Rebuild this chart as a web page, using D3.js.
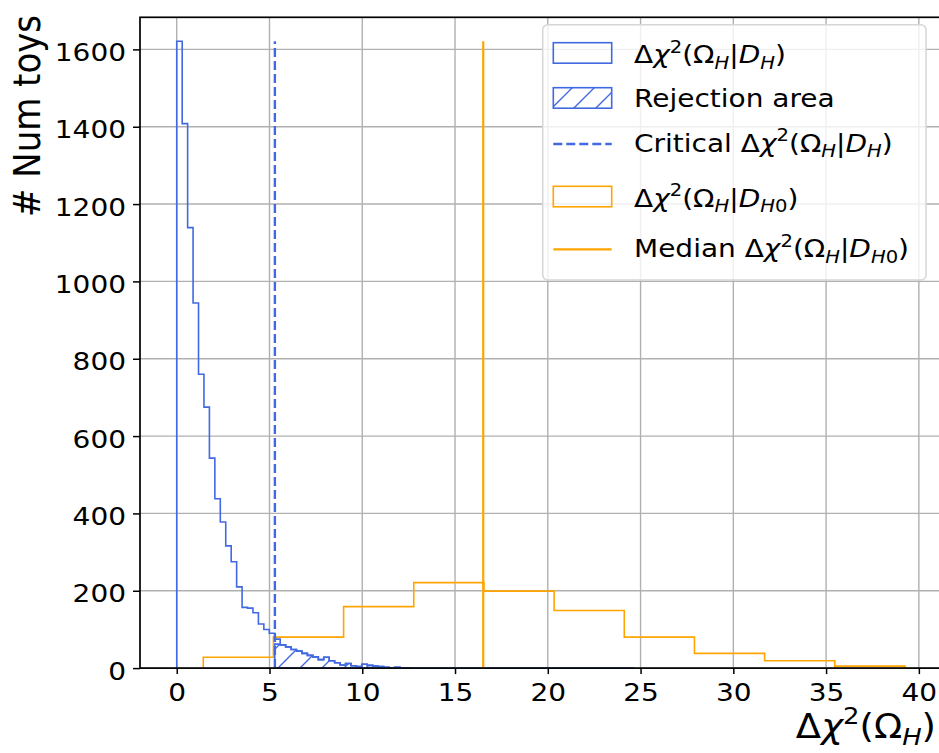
<!DOCTYPE html>
<html>
<head>
<meta charset="utf-8">
<script src="https://cdn.jsdelivr.net/npm/d3@7"></script>
<style>
body { margin: 0; background: #fff; }
text { font-family: "DejaVu Sans", sans-serif; fill: #000; }
</style>
</head>
<body>
<div id="chart-area"></div>
<script>

// SVG Size
var width = 939,
	height = 753;

// axes box (the right edge falls just outside the picture)
var box = {left: 140, right: 941.3, top: 17.3, bottom: 668.1};

// text in the reference is a bit wider than tall
var stretch = 1.12;

// Delta chi2 under H : histogram bins
var blueStart = 0,
	blueWidth = 0.2935;
var blueCounts = [1621, 1408, 1139, 944, 760, 675, 543, 438, 378, 316,
	275, 210, 157, 155, 143, 114, 100, 90, 75, 60,
	55, 48, 44, 38, 33, 29, 22, 28, 19, 14,
	8, 12, 6, 4, 10, 7, 5, 4, 2, 1,
	2, 1, 1, 0, 0, 0, 0, 0, 0, 0,
	0, 0, 0, 0, 0, 0, 0, 0, 0, 0,
	0, 0, 0, 0, 0, 0, 0, 0, 0, 0,
	0, 0, 0, 0, 0, 0, 0, 0, 0, 0,
	0, 0, 0, 0];

// rejection area : the same toys above the critical value
var rejFirstBin = 18;
var rejCounts = [62, 60, 55, 48, 44, 38, 33, 29, 22, 28,
	19, 14, 8, 12, 6, 4, 10, 7, 5, 4,
	2, 1, 2, 1, 1];

var critical = 5.29;

// Delta chi2 under H0
var orangeStart = 1.43,
	orangeWidth = 3.782;
var orangeCounts = [28, 80, 159, 221, 199, 149, 80, 38, 19, 5];

var median = 16.52;
var vlineTop = 1621;

var xTicks = [0, 5, 10, 15, 20, 25, 30, 35, 40];
var yTicks = [0, 200, 400, 600, 800, 1000, 1200, 1400, 1600];
var xDomain = [-1.98, 41.21],
	yDomain = [0, 1683];

var blue = "#4169e1",
	orange = "#ffa500";

var svg = d3.select("#chart-area").append("svg")
	.attr("width", width)
	.attr("height", height);

var x = d3.scaleLinear().domain(xDomain).range([box.left, box.right]);
var y = d3.scaleLinear().domain(yDomain).range([box.bottom, box.top]);

// hatch for the rejection area
var defs = svg.append("defs");
defs.append("pattern")
	.attr("id", "hatch")
	.attr("patternUnits", "userSpaceOnUse")
	.attr("width", 22)
	.attr("height", 22)
	.append("path")
	.attr("d", "M0,22 L22,0 M-11,11 L11,-11 M11,33 L33,11")
	.attr("stroke", blue)
	.attr("stroke-width", 1.4);

defs.append("clipPath")
	.attr("id", "plot-clip")
	.append("rect")
	.attr("x", box.left)
	.attr("y", box.top)
	.attr("width", box.right - box.left)
	.attr("height", box.bottom - box.top);

// grid
var grid = svg.append("g").attr("stroke", "#b0b0b0").attr("stroke-width", 1.4);
grid.selectAll(".gx").data(xTicks).enter().append("line")
	.attr("x1", d => x(d)).attr("x2", d => x(d))
	.attr("y1", box.top).attr("y2", box.bottom);
grid.selectAll(".gy").data(yTicks).enter().append("line")
	.attr("x1", box.left).attr("x2", box.right)
	.attr("y1", d => y(d)).attr("y2", d => y(d));

// step outline of a histogram, like histtype='step'
var stepPoints = function(start, w, vals) {
	var pts = [[start, 0]];
	vals.forEach(function(v, i) {
		pts.push([start + i * w, v]);
		pts.push([start + (i + 1) * w, v]);
	});
	pts.push([start + vals.length * w, 0]);
	return pts;
};

var line = d3.line().x(d => x(d[0])).y(d => y(d[1]));

var plot = svg.append("g").attr("clip-path", "url(#plot-clip)");

plot.append("path")
	.attr("d", line(stepPoints(orangeStart, orangeWidth, orangeCounts)))
	.attr("fill", "none")
	.attr("stroke", orange)
	.attr("stroke-width", 1.6);

// spines under the blue line so its zero part shows along the bottom
svg.append("rect")
	.attr("x", box.left).attr("y", box.top)
	.attr("width", box.right - box.left)
	.attr("height", box.bottom - box.top)
	.attr("fill", "none")
	.attr("stroke", "#000")
	.attr("stroke-width", 1.7);

plot.append("path")
	.attr("d", line(stepPoints(blueStart, blueWidth, blueCounts)))
	.attr("fill", "none")
	.attr("stroke", blue)
	.attr("stroke-width", 1.6);

plot.append("path")
	.attr("d", line(stepPoints(blueStart + rejFirstBin * blueWidth, blueWidth, rejCounts)) + "Z")
	.attr("fill", "url(#hatch)")
	.attr("stroke", blue)
	.attr("stroke-width", 1.6);

plot.append("line")
	.attr("x1", x(critical)).attr("x2", x(critical))
	.attr("y1", y(0)).attr("y2", y(vlineTop))
	.attr("stroke", blue)
	.attr("stroke-width", 2.4)
	.attr("stroke-dasharray", "9,4");

plot.append("line")
	.attr("x1", x(median)).attr("x2", x(median))
	.attr("y1", y(0)).attr("y2", y(vlineTop))
	.attr("stroke", orange)
	.attr("stroke-width", 2.2);

// axes
var xAxis = d3.axisBottom(x).tickValues(xTicks).tickSize(6).tickSizeOuter(0).tickPadding(9.3)
	.tickFormat(d3.format("d"));
var yAxis = d3.axisLeft(y).tickValues(yTicks).tickSize(7).tickSizeOuter(0)
	.tickFormat(d3.format("d"));

var xAxisGroup = svg.append("g")
	.attr("transform", "translate(0," + box.bottom + ")")
	.call(xAxis);
var yAxisGroup = svg.append("g")
	.attr("transform", "translate(" + box.left + ",0)")
	.call(yAxis);

[xAxisGroup, yAxisGroup].forEach(function(g) {
	g.select(".domain").remove();
	g.selectAll(".tick line").attr("stroke-width", 1.5);
	g.selectAll(".tick text")
		.attr("font-family", "DejaVu Sans")
		.attr("font-size", 25)
		.attr("fill", "#000")
		.attr("transform", "scale(" + stretch + ",1)");
});
yAxisGroup.selectAll(".tick text").attr("x", -12.5).attr("dy", "0.44em");

// mathtext-ish labels : [text, style], shifts relative to the font size
var addMath = function(t, parts, size) {
	var cur = 0;
	parts.forEach(function(p) {
		var style = p[1] || "";
		var shift = 0, small = false;
		if (style.indexOf("sup") === 0) { shift = -0.42 * size; small = true; }
		if (style.indexOf("sub") === 0) { shift = 0.22 * size; small = true; }
		var ts = t.append("tspan").text(p[0]).attr("dy", shift - cur);
		cur = shift;
		if (small) ts.attr("font-size", "70%");
		if (style === "i" || style === "subi") ts.attr("font-style", "italic");
	});
};

var dchi = [["Δ"], ["χ", "i"], ["2", "sup"], ["(Ω"], ["H", "subi"], ["|"], ["D", "i"], ["H", "subi"], [")"]];
var dchi0 = [["Δ"], ["χ", "i"], ["2", "sup"], ["(Ω"], ["H", "subi"], ["|"], ["D", "i"], ["H", "subi"], ["0", "sub"], [")"]];

// legend
var legend = svg.append("g");
legend.append("rect")
	.attr("x", 542.7).attr("y", 24.7)
	.attr("width", 383.3).attr("height", 255.3)
	.attr("rx", 5)
	.attr("fill", "#fff")
	.attr("fill-opacity", 0.8)
	.attr("stroke", "#d6d6d6")
	.attr("stroke-width", 1.5);

var entries = [
	{kind: "patch", color: blue, fill: "none", y: 52.7, base: 63, parts: dchi},
	{kind: "patch", color: blue, fill: "url(#hatch)", y: 97.7, base: 107.3, parts: [["Rejection area"]]},
	{kind: "dash", color: blue, y: 144, base: 151.5, parts: [["Critical "]].concat(dchi)},
	{kind: "patch", color: orange, fill: "none", y: 196.3, base: 206.5, parts: dchi0},
	{kind: "line", color: orange, y: 249.3, base: 257, parts: [["Median "]].concat(dchi0)}
];

entries.forEach(function(e) {
	if (e.kind === "patch") {
		legend.append("rect")
			.attr("x", 553.3).attr("y", e.y - 10)
			.attr("width", 58.4).attr("height", 20.5)
			.attr("fill", e.fill)
			.attr("stroke", e.color)
			.attr("stroke-width", 1.6);
	} else {
		legend.append("line")
			.attr("x1", 553.3).attr("x2", 611.7)
			.attr("y1", e.y).attr("y2", e.y)
			.attr("stroke", e.color)
			.attr("stroke-width", e.kind === "dash" ? 2.4 : 2.2)
			.attr("stroke-dasharray", e.kind === "dash" ? "9,4" : null);
	}
	var t = legend.append("text")
		.attr("transform", "translate(634," + e.base + ") scale(" + stretch + ",1)")
		.attr("font-size", 25);
	addMath(t, e.parts, 25);
});

// axis labels
var xl = svg.append("text")
	.attr("transform", "translate(936,738) scale(" + stretch + ",1)")
	.attr("text-anchor", "end")
	.attr("font-size", 33);
addMath(xl, [["Δ"], ["χ", "i"], ["2", "sup"], ["(Ω"], ["H", "subi"], [")"]], 33);

svg.append("text")
	.attr("transform", "translate(40,15) scale(" + stretch + ",1) rotate(-90)")
	.attr("text-anchor", "end")
	.attr("font-size", 34)
	.text("# Num toys");

</script>
</body>
</html>
